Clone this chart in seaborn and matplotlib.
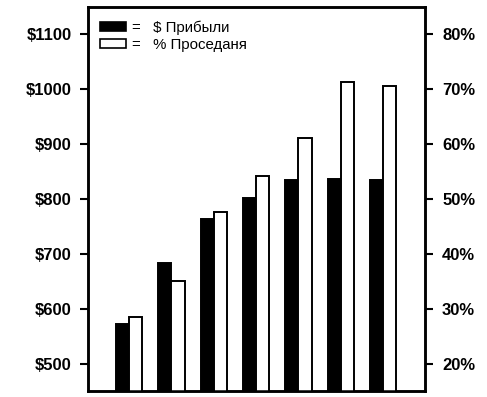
import pandas as pd
import matplotlib.pyplot as plt
import seaborn as sns
from matplotlib.patches import Patch

groups = ['1', '2', '3', '4', '5', '6', '7']
profit = [573, 683, 764, 802, 835, 836, 835]
drawdown = [28.5, 35.1, 47.6, 54.2, 61.1, 71.3, 70.5]
series = ['$ Прибыли', '% Проседаня']
left_ticks = [500, 600, 700, 800, 900, 1000, 1100]
right_ticks = [20, 30, 40, 50, 60, 70, 80]

sns.set_style('ticks')
plt.rcParams['font.family'] = ['Liberation Sans', 'DejaVu Sans']
plt.rcParams['text.color'] = 'black'
plt.rcParams['axes.edgecolor'] = 'black'
plt.rcParams['ytick.color'] = 'black'

df = pd.DataFrame({'group': groups * 2,
                   'value': profit + drawdown,
                   'series': [series[0]] * len(groups) + [series[1]] * len(groups)})
colors = {series[0]: 'black', series[1]: 'white'}

fig = plt.figure(figsize=(4.87, 3.97), dpi=100)
ax = fig.add_axes([0.1807, 0.0151, 0.692, 0.9673])
ax2 = ax.twinx()

# both series drawn on each axis for the dodge; each axis keeps only its own series
for a in (ax, ax2):
    sns.barplot(data=df, x='group', y='value', hue='series', hue_order=series,
                order=groups, palette=colors, width=0.62, gap=0, edgecolor='black',
                linewidth=1.4, legend=False, ax=a)
for bar in ax.containers[1]:
    bar.set_visible(False)
for bar in ax2.containers[0]:
    bar.set_visible(False)

for a in (ax, ax2):
    a.set_xlim(-0.97, 6.99)
    a.set_xlabel('')
    a.set_ylabel('')
    a.tick_params(axis='x', bottom=False, labelbottom=False)
    for s in a.spines.values():
        s.set_linewidth(1.8)
        s.set_visible(True)

ax.set_ylim(451, 1149)
ax2.set_ylim(15.1, 84.9)
ax.set_yticks(left_ticks, labels=[f'${v}' for v in left_ticks])
ax2.set_yticks(right_ticks, labels=[f'{v}%' for v in right_ticks])
ax.tick_params(axis='y', length=5.8, width=1.5, pad=5.8, labelsize=12)
ax2.tick_params(axis='y', length=5.8, width=1.5, pad=6.5, labelsize=12)
for lab in ax.get_yticklabels() + ax2.get_yticklabels():
    lab.set_fontweight('bold')

handles = [Patch(facecolor='black', edgecolor='black', linewidth=1.2),
           Patch(facecolor='white', edgecolor='black', linewidth=1.2)]
ax2.legend(handles, ['=   ' + s for s in series], loc='upper left',
           bbox_to_anchor=(0.036, 0.965), frameon=False, borderpad=0,
           borderaxespad=0, fontsize=10.8, handlelength=1.75, handleheight=0.5,
           handletextpad=0.4, labelspacing=0.2)

fig.savefig('out.png', dpi=100)
